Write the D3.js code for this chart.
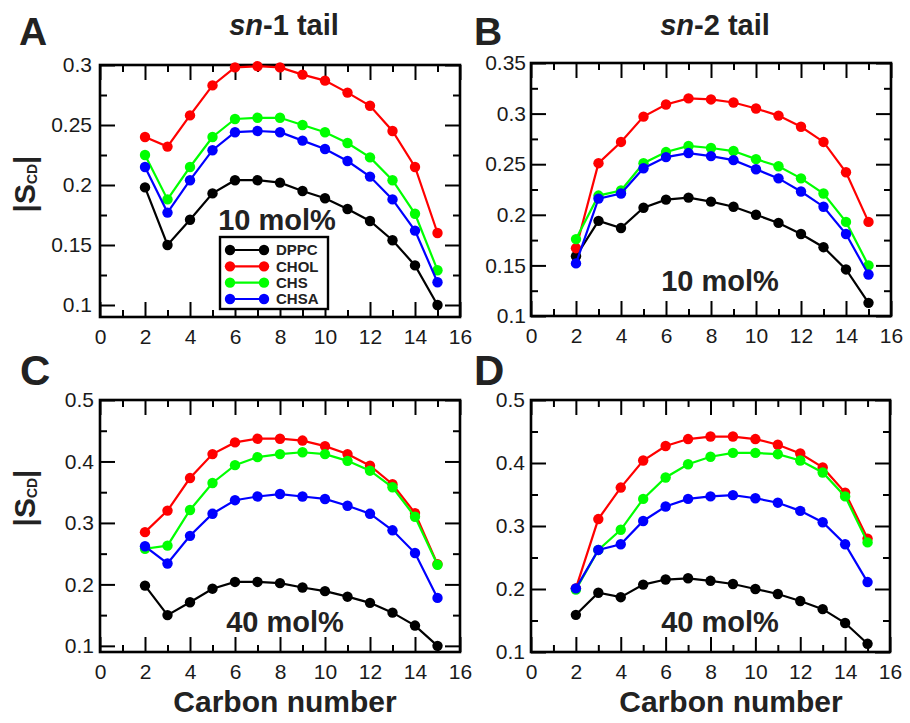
<!DOCTYPE html>
<html>
<head>
<meta charset="utf-8">
<script src="https://cdn.jsdelivr.net/npm/d3@7"></script>
<style>
  html, body { margin: 0; padding: 0; background: #fff; }
  svg { display: block; font-family: "Liberation Sans", Arial, sans-serif; }
</style>
</head>
<body>
<svg id="chart" width="910" height="723"></svg>
<script>
// ---------------- data ----------------
const carbons = [2, 3, 4, 5, 6, 7, 8, 9, 10, 11, 12, 13, 14, 15];
const seriesNames = ["DPPC", "CHOL", "CHS", "CHSA"];
const seriesColors = ["#000000", "#ff0000", "#00ff00", "#0000ff"];

// pure DPPC (same in 10 and 40 mol% panels)
const dppcSn1 = [0.198, 0.150, 0.171, 0.193, 0.204, 0.204, 0.202, 0.195, 0.189, 0.180, 0.170, 0.154, 0.133, 0.100];
const dppcSn2 = [0.159, 0.194, 0.187, 0.207, 0.215, 0.217, 0.213, 0.208, 0.200, 0.192, 0.181, 0.168, 0.146, 0.113];

// sn-1, 10 mol%
const cholSn1_10 = [0.240, 0.232, 0.258, 0.283, 0.298, 0.299, 0.298, 0.292, 0.287, 0.277, 0.266, 0.245, 0.215, 0.160];
const chsSn1_10  = [0.225, 0.188, 0.215, 0.240, 0.255, 0.256, 0.256, 0.250, 0.244, 0.235, 0.223, 0.204, 0.176, 0.129];
const chsaSn1_10 = [0.215, 0.177, 0.204, 0.229, 0.244, 0.245, 0.244, 0.237, 0.230, 0.220, 0.207, 0.188, 0.162, 0.119];

// sn-2, 10 mol%
const cholSn2_10 = [0.167, 0.251, 0.272, 0.297, 0.309, 0.315, 0.314, 0.311, 0.305, 0.298, 0.287, 0.272, 0.242, 0.193];
const chsSn2_10  = [0.176, 0.219, 0.224, 0.251, 0.262, 0.268, 0.266, 0.263, 0.255, 0.248, 0.236, 0.221, 0.193, 0.150];
const chsaSn2_10 = [0.152, 0.216, 0.221, 0.246, 0.257, 0.261, 0.258, 0.254, 0.245, 0.236, 0.223, 0.208, 0.181, 0.141];

// sn-1, 40 mol%
const cholSn1_40 = [0.285, 0.320, 0.373, 0.412, 0.431, 0.437, 0.437, 0.434, 0.425, 0.412, 0.393, 0.363, 0.316, 0.233];
const chsSn1_40  = [0.258, 0.263, 0.321, 0.365, 0.394, 0.407, 0.412, 0.415, 0.412, 0.401, 0.385, 0.358, 0.310, 0.232];
const chsaSn1_40 = [0.262, 0.234, 0.279, 0.315, 0.337, 0.343, 0.347, 0.343, 0.339, 0.328, 0.315, 0.288, 0.251, 0.178];

// sn-2, 40 mol%
const cholSn2_40 = [0.201, 0.311, 0.361, 0.404, 0.427, 0.438, 0.442, 0.442, 0.438, 0.429, 0.415, 0.393, 0.353, 0.280];
const chsSn2_40  = [0.199, 0.262, 0.294, 0.343, 0.377, 0.398, 0.410, 0.416, 0.416, 0.414, 0.404, 0.385, 0.347, 0.274];
const chsaSn2_40 = [0.201, 0.262, 0.271, 0.308, 0.331, 0.343, 0.347, 0.349, 0.344, 0.337, 0.324, 0.306, 0.271, 0.211];

// axis ticks
const xTicksMajor = [0, 2, 4, 6, 8, 10, 12, 14, 16];
const xTicksMinor = [1, 3, 5, 7, 9, 11, 13, 15];
const yTicksA = [0.1, 0.15, 0.2, 0.25, 0.3];
const yMinorA = [0.125, 0.175, 0.225, 0.275];
const yTicksB = [0.1, 0.15, 0.2, 0.25, 0.3, 0.35];
const yMinorB = [0.125, 0.175, 0.225, 0.275, 0.325];
const yTicksCD = [0.1, 0.2, 0.3, 0.4, 0.5];
const yMinorCD = [0.15, 0.25, 0.35, 0.45];

const panelLetters = ["A", "B", "C", "D"];
const tailTitles = ["-1 tail", "-2 tail"];
const concLabels = ["10 mol%", "10 mol%", "40 mol%", "40 mol%"];
const xTitle = "Carbon number";

// ---------------- layout ----------------
const svg = d3.select("#chart");
const FONT = '"Liberation Sans", Arial, sans-serif';

const panels = [
  { left: 100, top: 65, w: 360, h: 252, yDom: [0.09, 0.3], yMaj: yTicksA, yMin: yMinorA, lbl: [19, 45],
    series: [dppcSn1, cholSn1_10, chsSn1_10, chsaSn1_10], conc: [177, 165], tickGap: 8 },
  { left: 531, top: 63, w: 360, h: 253, yDom: [0.1, 0.35], yMaj: yTicksB, yMin: yMinorB, lbl: [474, 45],
    series: [dppcSn2, cholSn2_10, chsSn2_10, chsaSn2_10], conc: [189, 228], tickGap: 5 },
  { left: 100, top: 400, w: 360, h: 252, yDom: [0.09, 0.5], yMaj: yTicksCD, yMin: yMinorCD, lbl: [20, 385],
    series: [dppcSn1, cholSn1_40, chsSn1_40, chsaSn1_40], conc: [185, 232], tickGap: 6 },
  { left: 531, top: 400, w: 359, h: 252, yDom: [0.1, 0.5], yMaj: yTicksCD, yMin: yMinorCD, lbl: [474, 385],
    series: [dppcSn2, cholSn2_40, chsSn2_40, chsaSn2_40], conc: [189, 232], tickGap: 6 }
];

const fmt = v => String(+v.toFixed(3));
const MAJ = 15, MIN = 7;

panels.forEach((p, i) => {
  const x = d3.scaleLinear().domain([0, 16]).range([0, p.w]);
  const y = d3.scaleLinear().domain(p.yDom).range([p.h, 0]);
  const g = svg.append("g").attr("transform", `translate(${p.left},${p.top})`);

  function styleAxis(sel) {
    sel.select(".domain").remove();
    sel.selectAll("line").attr("stroke", "#000").attr("stroke-width", 2);
    sel.selectAll("text").attr("font-family", FONT).attr("font-size", 21).attr("fill", "#1a1a1a");
  }

  // bottom major with labels
  g.append("g").attr("transform", `translate(0,${p.h})`)
    .call(d3.axisBottom(x).tickValues(xTicksMajor).tickSize(-MAJ).tickPadding(12).tickFormat(d => String(d)))
    .call(styleAxis);
  g.append("g").attr("transform", `translate(0,${p.h})`)
    .call(d3.axisBottom(x).tickValues(xTicksMinor).tickSize(-MIN).tickFormat(""))
    .call(styleAxis);
  // top
  g.append("g")
    .call(d3.axisTop(x).tickValues(xTicksMajor).tickSize(-MAJ).tickFormat(""))
    .call(styleAxis);
  g.append("g")
    .call(d3.axisTop(x).tickValues(xTicksMinor).tickSize(-MIN).tickFormat(""))
    .call(styleAxis);
  // left
  g.append("g")
    .call(d3.axisLeft(y).tickValues(p.yMaj).tickSize(-MAJ).tickPadding(p.tickGap).tickFormat(fmt))
    .call(styleAxis);
  g.append("g")
    .call(d3.axisLeft(y).tickValues(p.yMin).tickSize(-MIN).tickFormat(""))
    .call(styleAxis);
  // right
  g.append("g").attr("transform", `translate(${p.w},0)`)
    .call(d3.axisRight(y).tickValues(p.yMaj).tickSize(-MAJ).tickFormat(""))
    .call(styleAxis);
  g.append("g").attr("transform", `translate(${p.w},0)`)
    .call(d3.axisRight(y).tickValues(p.yMin).tickSize(-MIN).tickFormat(""))
    .call(styleAxis);

  // frame
  g.append("rect").attr("x", 0).attr("y", 0).attr("width", p.w).attr("height", p.h)
    .attr("fill", "none").attr("stroke", "#000").attr("stroke-width", 2.6);

  // concentration label
  g.append("text").attr("x", p.conc[0]).attr("y", p.conc[1])
    .attr("text-anchor", "middle").attr("font-family", FONT).attr("font-weight", "bold")
    .attr("font-size", 29).attr("fill", "#222").text(concLabels[i]);

  // series
  const line = d3.line().x((d, j) => x(carbons[j])).y(d => y(d));
  p.series.forEach((vals, s) => {
    g.append("path").datum(vals).attr("d", line)
      .attr("fill", "none").attr("stroke", seriesColors[s]).attr("stroke-width", 2.2);
    g.append("g").selectAll("circle").data(vals).join("circle")
      .attr("cx", (d, j) => x(carbons[j])).attr("cy", d => y(d)).attr("r", 5.2)
      .attr("fill", seriesColors[s]);
  });

  // panel letter
  svg.append("text").attr("x", p.lbl[0]).attr("y", p.lbl[1])
    .attr("font-family", FONT).attr("font-weight", "bold").attr("font-size", i < 2 ? 39 : 42)
    .attr("fill", "#222").text(panelLetters[i]);

  // legend in panel A
  if (i === 0) {
    const lg = svg.append("g");
    lg.append("rect").attr("x", 220).attr("y", 237).attr("width", 108).attr("height", 72)
      .attr("fill", "#fff").attr("stroke", "#000").attr("stroke-width", 2.4);
    const rowY = d3.scalePoint().domain(seriesNames).range([250, 299]);
    seriesNames.forEach((nm, s) => {
      const yy = rowY(nm);
      lg.append("line").attr("x1", 230).attr("x2", 264).attr("y1", yy).attr("y2", yy)
        .attr("stroke", seriesColors[s]).attr("stroke-width", 2.2);
      [230, 264].forEach(cx => lg.append("circle").attr("cx", cx).attr("cy", yy).attr("r", 5.2).attr("fill", seriesColors[s]));
      lg.append("text").attr("x", 276).attr("y", yy).attr("dy", "0.36em")
        .attr("font-family", FONT).attr("font-weight", "bold").attr("font-size", 15)
        .attr("fill", "#222").text(nm);
    });
  }
});

// column titles
[[284, 35, 0], [715, 35, 1]].forEach(([cx, cy, k]) => {
  const t = svg.append("text").attr("x", cx).attr("y", cy).attr("text-anchor", "middle")
    .attr("font-family", FONT).attr("font-weight", "bold").attr("font-size", 29).attr("fill", "#222");
  t.append("tspan").attr("font-style", "italic").text("sn");
  t.append("tspan").text(tailTitles[k]);
});

// y titles
[[35, 184], [35, 498]].forEach(([tx, ty]) => {
  const t = svg.append("text").attr("transform", `translate(${tx},${ty}) rotate(-90)`)
    .attr("text-anchor", "middle").attr("font-family", FONT).attr("font-weight", "bold")
    .attr("font-size", 30).attr("fill", "#222");
  t.append("tspan").text("|S");
  t.append("tspan").attr("font-size", 14).attr("dy", 2).text("CD");
  t.append("tspan").attr("dy", -2).text("|");
});

// x titles
[[285, 712], [731, 712]].forEach(([tx, ty]) => {
  svg.append("text").attr("x", tx).attr("y", ty).attr("text-anchor", "middle")
    .attr("font-family", FONT).attr("font-weight", "bold").attr("font-size", 30)
    .attr("fill", "#222").text(xTitle);
});
</script>
</body>
</html>
